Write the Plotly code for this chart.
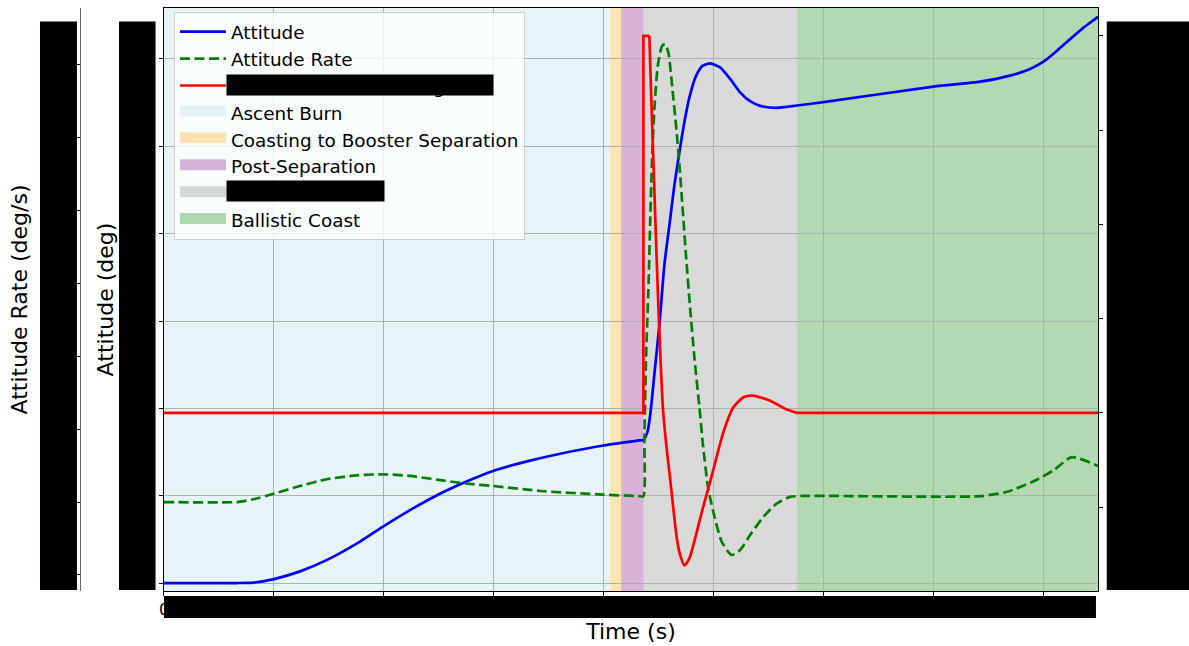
import plotly.graph_objects as go

# ---------------- data ----------------
time_att = [0.00, 6.64, 8.10, 10.01, 12.38, 14.84, 17.84, 19.93, 22.39, 24.85, 27.58, 29.95,
            33.04, 36.05, 39.96, 43.20, 43.63, 44.03, 44.33, 44.63, 45.09, 45.54, 46.00, 46.45,
            46.91, 47.36, 47.82, 48.43, 49.04, 49.70, 50.61, 51.52, 52.43, 53.34, 54.25,
            55.77, 57.59, 60.01, 70.02, 74.27, 77.00, 78.82, 80.03, 81.26, 82.47, 83.68,
            84.90, 85.00]
attitude = [0.0, 0.0, 0.1, 0.91, 2.67, 5.31, 9.50, 12.92, 16.70, 20.11, 23.30, 25.67,
            27.86, 29.61, 31.50, 32.65, 32.80, 34.92, 40.25, 47.84, 59.23, 72.90, 82.01, 91.12,
            98.71, 105.54, 111.24, 116.18, 118.46, 118.98, 118.07, 115.43, 112.37, 110.32, 109.27,
            108.82, 109.34, 110.10, 113.67, 114.81, 116.18, 117.70, 119.37, 121.87, 124.54, 127.17,
            129.46, 129.70]

time_rate = [0.00, 6.64, 8.13, 10.04, 12.38, 14.81, 17.54, 19.96, 22.39, 24.82, 27.55, 29.97,
             34.52, 39.98, 43.20, 43.63, 43.72, 43.87, 44.08, 44.24, 44.42, 44.63, 44.94, 45.33,
             45.60, 45.90, 46.30, 46.60, 46.91, 47.22, 47.52, 47.88, 48.27, 48.73, 49.04,
             49.53, 50.14, 50.75, 51.66, 52.43, 53.34, 54.55, 55.77, 56.98, 58.19, 74.27,
             76.71, 79.13, 80.95, 82.62, 84.90, 85.00]
attitude_rate = [0.0, 0.0, 0.19, 0.58, 1.10, 1.56, 1.83, 1.90, 1.79, 1.53, 1.26, 1.10,
                 0.74, 0.51, 0.41, 0.40, 4.22, 9.90, 14.45, 19.00, 23.55, 26.96, 29.91, 31.27,
                 31.39, 30.82, 28.09, 25.82, 23.09, 19.90, 16.73, 13.31, 9.90, 6.49, 3.99,
                 0.92, -1.13, -2.71, -3.63, -3.29, -2.26, -1.01, -0.10, 0.35, 0.42, 0.40,
                 0.70, 1.42, 2.17, 3.08, 2.51, 2.47]

time_cmd = [0.00, 43.63, 43.63, 44.17, 44.33, 44.63, 44.94, 45.18, 45.40, 45.70, 46.06,
            46.67, 46.97, 47.36, 47.82, 48.18, 48.95, 49.86, 50.91, 51.82, 52.73, 53.59,
            55.16, 56.68, 57.59, 85.00]
command = [0.0, 0.0, 40.0, 40.0, 34.02, 23.46, 12.91, 5.88, 0.60, -3.27, -6.97,
           -13.30, -15.06, -16.18, -15.41, -14.01, -10.49, -6.62, -2.04, 0.60, 1.66, 1.83,
           1.30, 0.35, 0.0, 0.0]
# the first points form the step and the last two the flat tail (drawn straight);
# the points in between are the smooth response
cmd_step_end = 4

phase_names = ["Ascent Burn", "Coasting to Booster Separation", "Post-Separation",
               "Attitude Control", "Ballistic Coast"]
phase_start = [0.0, 40.6, 41.6, 43.65, 57.6]
phase_end = [40.6, 41.6, 43.65, 57.6, 85.0]
phase_colors = ["rgba(173,216,230,0.3)", "rgba(255,165,0,0.3)", "rgba(128,0,128,0.3)",
                "rgba(128,128,128,0.3)", "rgba(0,128,0,0.3)"]
# the same colours as they appear on the legend's translucent white box
phase_swatch = ["#e3f2f7", "#fce2b2", "#d5b1d8", "#d5d7d8", "#afd7b2"]

x_ticks = [0, 10, 20, 30, 40, 50, 60, 70, 80]
att_ticks = [0, 20, 40, 60, 80, 100, 120]
rate_ticks = [-5, 0, 5, 10, 15, 20, 25, 30]
cmd_ticks = [-10, 0, 10, 20, 30, 40]

FONT = "DejaVu Sans"
CMD_NAME = "Control Deflection (deg)"

fig = go.Figure()
fig.add_trace(go.Scatter(x=time_att, y=attitude, name="Attitude", mode="lines",
                         line=dict(color="blue", width=2.7, shape="spline", smoothing=0.6),
                         yaxis="y", legendrank=1))
fig.add_trace(go.Scatter(x=time_rate, y=attitude_rate, name="Attitude Rate", mode="lines",
                         line=dict(color="green", width=2.7, dash="10px,4.5px",
                                   shape="spline", smoothing=0.6),
                         yaxis="y2", legendrank=2))
fig.add_trace(go.Scatter(x=time_cmd[:cmd_step_end] + [None] + time_cmd[-2:],
                         y=command[:cmd_step_end] + [None] + command[-2:], name=CMD_NAME,
                         mode="lines", line=dict(color="red", width=2.7), connectgaps=False,
                         yaxis="y3", legendrank=3, legendgroup="cmd"))
fig.add_trace(go.Scatter(x=time_cmd[cmd_step_end - 1:-1], y=command[cmd_step_end - 1:-1],
                         name=CMD_NAME, mode="lines",
                         line=dict(color="red", width=2.7, shape="spline", smoothing=0.6),
                         yaxis="y3", legendgroup="cmd", showlegend=False))

for i, (nm, s, e, c, sw) in enumerate(zip(phase_names, phase_start, phase_end,
                                          phase_colors, phase_swatch)):
    fig.add_shape(type="rect", xref="x", yref="paper", x0=s, x1=e, y0=0, y1=1,
                  fillcolor=c, line=dict(width=0), layer="below")
    # legend swatch for the shaded phase
    fig.add_trace(go.Scatter(x=[None], y=[None], mode="lines", name=nm,
                             fill="toself", fillcolor=sw,
                             line=dict(color=sw, width=10), hoverinfo="skip",
                             legendrank=4 + i))

# redaction boxes present in the reference (tick labels)
for (x0, x1, y0, y1) in [(-0.0393, -0.0030, 0.0017, 0.9768),
                         (0.0383, 0.0742, 0.0017, 0.9768),
                         (1.0086, 1.0900, 0.0017, 0.9768),
                         (0.0825, 0.9980, -0.0461, -0.0085)]:
    fig.add_shape(type="rect", xref="paper", yref="paper", x0=x0, x1=x1, y0=y0, y1=y1,
                  fillcolor="black", line=dict(width=0), layer="above")

# redaction boxes over two legend labels
for (xc, yc, w, h) in [(0.2753, 0.8683, 266, 20), (0.2217, 0.6860, 157, 20)]:
    fig.add_annotation(x=xc, y=yc, xref="paper", yref="paper", text=" ", showarrow=False,
                       width=w, height=h, bgcolor="black", borderpad=0,
                       xanchor="center", yanchor="middle")

axis_common = dict(ticks="outside", ticklen=4, tickcolor="black", tickwidth=1,
                   tickfont=dict(family=FONT, size=16, color="black"),
                   showline=True, zeroline=False)

fig.update_layout(
    width=1189, height=646, autosize=False,
    margin=dict(l=80, r=91, t=7, b=53),
    paper_bgcolor="white", plot_bgcolor="white",
    font=dict(family=FONT, color="black"),
    xaxis=dict(domain=[0.0825, 1.0], range=[0, 85], tickvals=x_ticks,
               showgrid=True, gridcolor="#b0b0b0", gridwidth=1,
               linecolor="black", linewidth=1.2, mirror=True,
               title=dict(text="Time (s)", font=dict(family=FONT, size=22), standoff=4),
               **axis_common),
    yaxis=dict(range=[-1.82, 131.67], tickvals=att_ticks, side="left", anchor="x",
               showgrid=True, gridcolor="#b0b0b0", gridwidth=1,
               linecolor="black", linewidth=1.2, mirror=True,
               title=dict(text="Attitude (deg)", font=dict(family=FONT, size=22), standoff=5),
               **axis_common),
    yaxis2=dict(range=[-6.10, 33.87], tickvals=rate_ticks, overlaying="y", side="left",
                anchor="free", position=0, showgrid=False, linecolor="#666666", linewidth=1,
                title=dict(text="Attitude Rate (deg/s)", font=dict(family=FONT, size=22),
                           standoff=14),
                **axis_common),
    yaxis3=dict(range=[-18.89, 42.95], tickvals=cmd_ticks, overlaying="y", side="right",
                anchor="x", showgrid=False, linecolor="black", linewidth=1.2,
                **axis_common),
    legend=dict(x=0.0923, y=0.9928, xanchor="left", yanchor="top",
                bgcolor="rgba(255,255,255,0.8)", bordercolor="#cccccc", borderwidth=1,
                font=dict(family=FONT, size=18.4, color="black"), tracegroupgap=0,
                itemwidth=46),
    showlegend=True,
)

fig.write_html("out.html")
